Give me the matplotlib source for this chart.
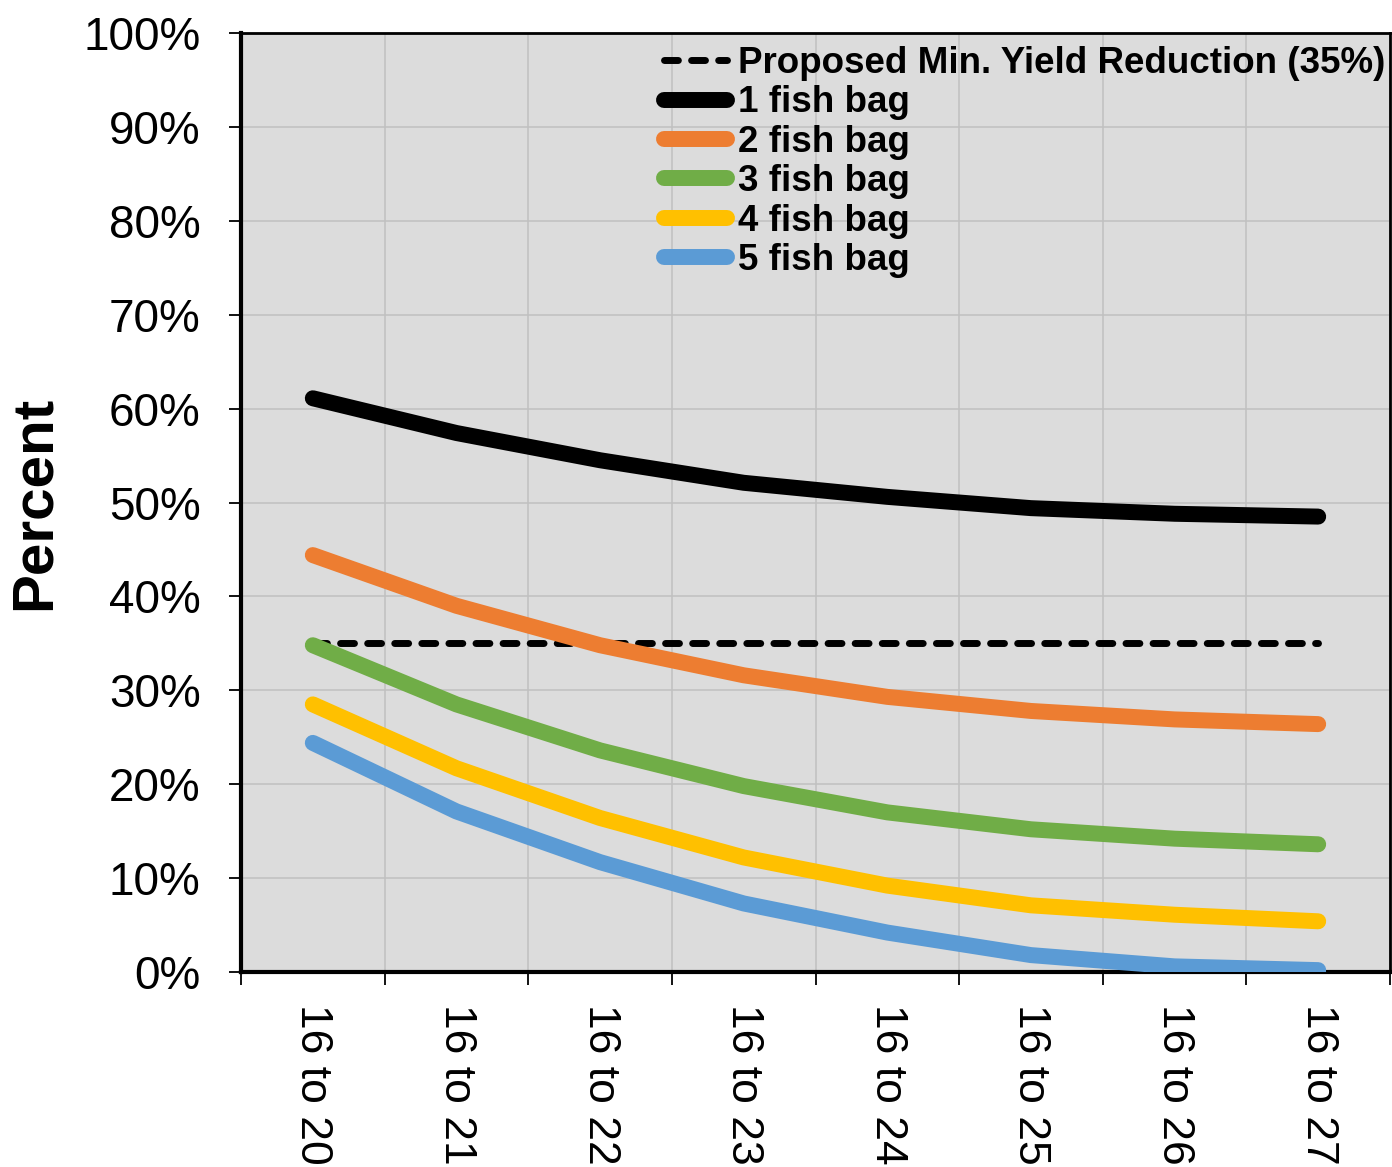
import matplotlib
matplotlib.use('Agg')
import matplotlib.pyplot as plt
import numpy as np

categories = ["16 to 20", "16 to 21", "16 to 22", "16 to 23",
              "16 to 24", "16 to 25", "16 to 26", "16 to 27"]
bag1 = [61.1, 57.4, 54.5, 52.1, 50.6, 49.4, 48.8, 48.5]
bag2 = [44.4, 39.0, 34.8, 31.6, 29.3, 27.8, 26.9, 26.4]
bag3 = [34.8, 28.5, 23.6, 19.8, 17.0, 15.2, 14.2, 13.6]
bag4 = [28.5, 21.7, 16.4, 12.2, 9.2, 7.1, 6.1, 5.4]
bag5 = [24.4, 17.1, 11.7, 7.3, 4.2, 1.8, 0.6, 0.2]
threshold = 35
yticks = list(range(0, 101, 10))
series_labels = ["1 fish bag", "2 fish bag", "3 fish bag", "4 fish bag", "5 fish bag"]
threshold_label = "Proposed Min. Yield Reduction (35%)"
colors = ["#000000", "#ED7D31", "#70AD47", "#FFC000", "#5B9BD5"]

plt.rcParams['font.family'] = ['Liberation Sans', 'DejaVu Sans']

fig = plt.figure(figsize=(13.92, 11.67), dpi=100)
ax = fig.add_axes([241/1392, 1 - 972/1167, (1390-241)/1392, (972-33)/1167])
ax.set_facecolor('#DCDCDC')

x = np.arange(len(categories))
ax.plot(x, [threshold]*len(x), color='black', lw=5, linestyle=(0, (2, 1.9)),
        dash_capstyle='round', label=threshold_label, zorder=3)
for vals, c, lab in zip([bag1, bag2, bag3, bag4, bag5], colors, series_labels):
    ax.plot(x, vals, color=c, lw=11.5, solid_capstyle='round',
            solid_joinstyle='round', label=lab, zorder=4)

ax.set_xlim(-0.5, len(categories) - 0.5)
ax.set_ylim(0, 100)

ax.set_xticks(np.arange(-0.5, len(categories), 1))
ax.set_xticklabels([])
ax.set_xticks(x, minor=True)
ax.set_xticklabels(categories, minor=True, rotation=270, fontsize=32)
for lbl in ax.get_xticklabels(minor=True):
    lbl.set_x(lbl.get_position()[0])
ax.tick_params(axis='x', which='minor', length=0, pad=23)
ax.tick_params(axis='x', which='major', length=9, width=1.3, direction='out')

ax.set_yticks(yticks)
ax.set_yticklabels([f"{v}%" for v in yticks], fontsize=33)
ax.tick_params(axis='y', length=9, width=1.3, direction='out', pad=20)

ax.grid(True, which='major', color='#C0C0C0', lw=1.1)
ax.set_axisbelow(True)

for s in ['left', 'bottom']:
    ax.spines[s].set_linewidth(3)
for s in ['top', 'right']:
    ax.spines[s].set_linewidth(2)

ax.set_ylabel("Percent", fontsize=42, fontweight='bold')
ax.yaxis.set_label_coords((62-241)/1149, 0.5)

leg = ax.legend(loc='upper left', bbox_to_anchor=(664/1392, 1 - 46/1167),
                bbox_transform=fig.transFigure, frameon=False,
                prop={'weight': 'bold', 'size': 26.5}, handlelength=1.7,
                handletextpad=0.3, labelspacing=0.12, borderpad=0,
                borderaxespad=0)

fig.savefig('out.png', dpi=100)
